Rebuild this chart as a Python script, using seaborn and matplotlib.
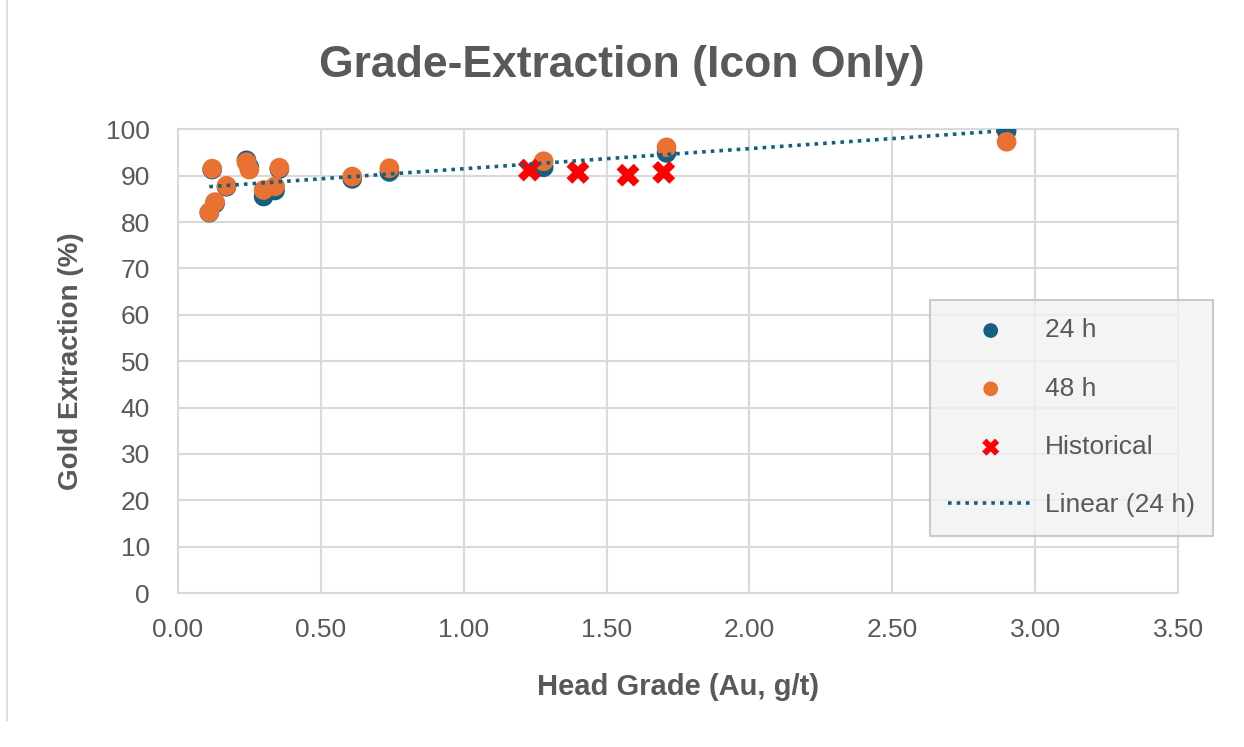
import numpy as np
import pandas as pd
from matplotlib import pyplot as plt
from matplotlib.ticker import FormatStrFormatter
import seaborn as sns

# head grade (Au, g/t) for the test samples
head_grade = [0.11, 0.12, 0.13, 0.17, 0.24, 0.25, 0.30, 0.34, 0.355, 0.61, 0.74, 1.28, 1.71, 2.90]
# gold extraction (%) at 24 h and 48 h
ext_24h = [82.0, 91.3, 84.0, 87.6, 93.3, 91.8, 85.5, 86.8, 91.4, 89.3, 90.8, 91.8, 94.9, 99.6]
ext_48h = [82.1, 91.5, 84.3, 87.8, 92.9, 91.3, 86.9, 87.7, 91.7, 89.8, 91.6, 93.1, 96.1, 97.3]
# historical results
hist_grade = [1.23, 1.40, 1.575, 1.70]
hist_ext = [91.2, 90.7, 90.1, 90.7]

blue = '#156082'
orange = '#E97132'
grey = '#595959'

df24 = pd.DataFrame({'grade': head_grade, 'ext': ext_24h})
df48 = pd.DataFrame({'grade': head_grade, 'ext': ext_48h})
dfh = pd.DataFrame({'grade': hist_grade, 'ext': hist_ext})

sns.set_style('whitegrid', {'grid.color': '#d9d9d9', 'axes.edgecolor': '#d9d9d9'})
plt.rcParams['font.family'] = ['Liberation Sans', 'DejaVu Sans']

fig = plt.figure(figsize=(12.44, 7.47), dpi=100)
ax = fig.add_axes([0.143, 0.206, 0.804, 0.621])

sns.scatterplot(data=df24, x='grade', y='ext', ax=ax, color=blue, s=200,
                edgecolor='none', label='24 h', zorder=3)
sns.scatterplot(data=df48, x='grade', y='ext', ax=ax, color=orange, s=200,
                edgecolor='none', label='48 h', zorder=4)
sns.scatterplot(data=dfh, x='grade', y='ext', ax=ax, color='red', marker='X', s=270,
                edgecolor='none', label='Historical', zorder=5)
sns.regplot(data=df24, x='grade', y='ext', ax=ax, scatter=False, ci=None, truncate=True,
            color=blue, label='Linear (24 h)',
            line_kws={'linestyle': (0, (1, 1.4)), 'linewidth': 2.6, 'zorder': 6})

ax.set_xlim(0, 3.5)
ax.set_ylim(0, 100)
ax.set_xticks(np.arange(0, 3.51, 0.5))
ax.set_yticks(np.arange(0, 101, 10))
ax.xaxis.set_major_formatter(FormatStrFormatter('%.2f'))
ax.tick_params(axis='both', labelsize=19, labelcolor=grey, length=0)
ax.tick_params(axis='x', pad=18)
ax.tick_params(axis='y', pad=20)
for sp in ax.spines.values():
    sp.set_color('#d9d9d9')
    sp.set_linewidth(1.5)
ax.grid(True, linewidth=1.5, color='#d9d9d9')

ax.set_xlabel('Head Grade (Au, g/t)', fontsize=21, fontweight='bold', color=grey, labelpad=22)
ax.set_ylabel('Gold Extraction (%)', fontsize=20, fontweight='bold', color=grey, labelpad=16)
fig.suptitle('Grade-Extraction (Icon Only)', fontsize=32, fontweight='bold', color=grey, y=0.94)

leg = ax.legend(loc='upper left', bbox_to_anchor=(0.7476, 0.5984), bbox_transform=fig.transFigure,
                borderaxespad=0, fontsize=19, labelcolor=grey, frameon=True, fancybox=False,
                facecolor='#f2f2f2', edgecolor='#bfbfbf', borderpad=0.7, labelspacing=1.3,
                handlelength=3.2, handletextpad=0.45, markerscale=0.75)
leg.get_frame().set_linewidth(1.5)

# thin frame line at left edge of chart area
fig.add_artist(plt.Line2D([0.006, 0.006], [0.035, 1.0], color='#d9d9d9', linewidth=1.2,
                          transform=fig.transFigure))

fig.savefig('out.png', dpi=100)
